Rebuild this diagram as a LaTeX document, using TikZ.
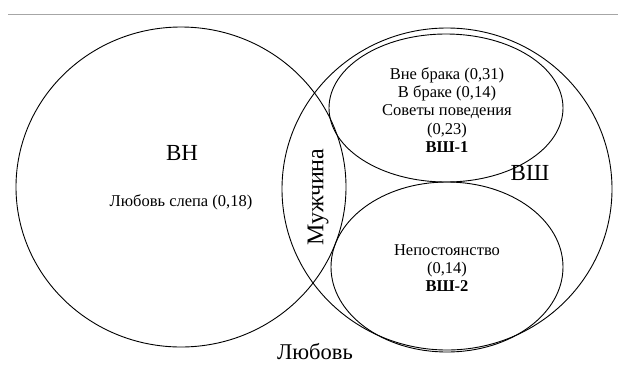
\documentclass[tikz,border=0pt]{standalone}
\usepackage{fontspec}
\setmainfont{Liberation Serif}
\begin{document}
\begin{tikzpicture}[x=1pt,y=-1pt,
  circ/.style={draw=black,line width=0.9pt},
  lbl/.style={font=\fontsize{16.5}{18.3}\selectfont,align=center,inner sep=0pt},
  big/.style={font=\fontsize{23}{26}\selectfont,inner sep=0pt}]
\useasboundingbox[fill=white] (0,0) rectangle (624,365);
\draw[gray!70,line width=1pt] (8,14) -- (618,14);
% left circle
\draw[circ] (181,187) ellipse [x radius=165,y radius=160];
% big right circle
\draw[circ] (447,189) ellipse [x radius=165,y radius=161];
% ВШ-1
\draw[circ] (446,108) ellipse [x radius=117,y radius=74];
% ВШ-2
\draw[circ] (447,267) ellipse [x radius=116,y radius=85];
% texts
\node[big] (vn) at (182,153) {ВН};
\node[lbl] (ls) at (181,202) {Любовь слепа (0,18)};
\node[big,font=\fontsize{24}{28}\selectfont,rotate=90] (man) at (318,197) {Мужчина};
\node[big] (vsh) at (530,173) {ВШ};
\node[lbl] (t1) at (447,110) {Вне брака (0,31)\\В браке (0,14)\\Советы поведения\\(0,23)\\\textbf{ВШ-1}};
\node[lbl] (t2) at (447,268) {Непостоянство\\(0,14)\\\textbf{ВШ-2}};
\node[big,font=\fontsize{22.5}{26}\selectfont] (love) at (315,352) {Любовь};
\end{tikzpicture}
\end{document}
